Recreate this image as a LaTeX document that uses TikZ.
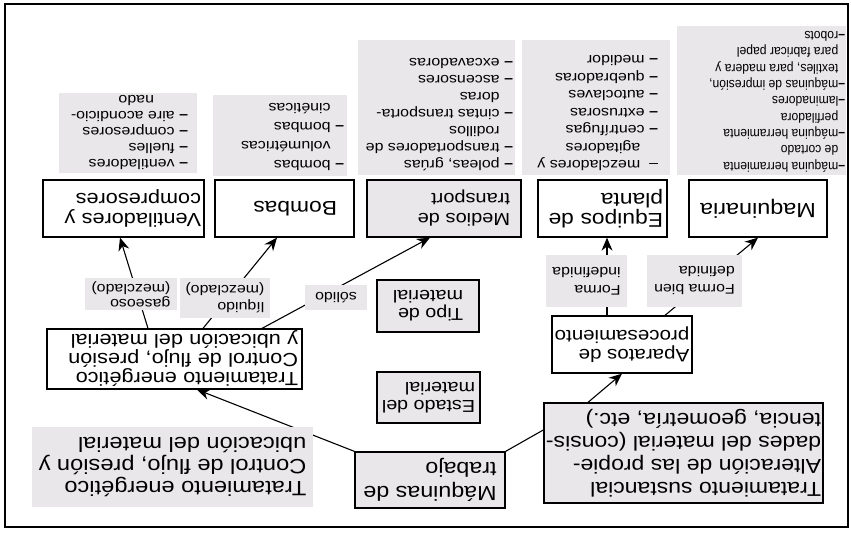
\documentclass[tikz,border=0pt]{standalone}
\usepackage{fontspec}
\setmainfont{Liberation Sans}[FakeStretch=1.14]
\newfontfamily\condfont{Liberation Sans}[FakeStretch=0.9]
\usetikzlibrary{arrows.meta}
\definecolor{boxgray}{RGB}{234,231,234}
\newcommand\bd{\textbf{–}\ }
\newcommand\bdd{\textbf{–}}
\newcommand\ind{\hphantom{\textbf{–}\ }}
\newcommand\indd{\hphantom{\textbf{–}}}
\newcommand\fs[2]{\fontsize{#1}{#2}\selectfont}
\begin{document}
\begin{tikzpicture}[x=1pt,y=-1pt,
  box/.style={draw, line width=1.3pt, rotate=180, align=left, inner sep=2pt, fill=white},
  graybox/.style={box, fill=boxgray},
  listbg/.style={fill=boxgray, rotate=180, inner sep=0pt},
  listtext/.style={rotate=180, align=left, inner sep=0pt, anchor=north west, font=\fs{14}{16}},
  lab/.style={fill=boxgray, rotate=180, align=left, inner sep=0pt, font=\fs{14}{15}},
  conn/.style={line width=1.1pt},
  arr/.style={conn, -{Stealth[length=13pt,width=11pt]}},
  frame/.style={line width=2.5pt}
]
\useasboundingbox (0,0) rectangle (851,534);
\fill[white] (0,0) rectangle (851,534);
\draw[frame] (5,4) rectangle (848,527);

% top row boxes
\node[box, minimum width=161pt, minimum height=57pt, inner xsep=3pt, text width=155pt, font=\fs{19}{20}] (vent) at (123.5,208.5) {Ventiladores y\\compresores};
\node[box, minimum width=139pt, minimum height=57pt, inner xsep=17pt, text width=105pt, font=\fs{20}{21}] (bomb) at (284.5,208.5) {Bombas};
\node[graybox, minimum width=154pt, minimum height=57pt, inner xsep=11pt, text width=132pt, font=\fs{17.5}{20}] (medios) at (444,208.5) {Medios de\\transport};
\node[box, minimum width=129pt, minimum height=57pt, inner xsep=4pt, text width=121pt, font=\fs{20}{20}] (equipos) at (602.5,208.5) {Equipos de\\planta};
\node[box, minimum width=138pt, minimum height=57pt, font=\fs{20.5}{21}] (maqui) at (758,208.5) {Maquinaria};

% list backgrounds
\node[listbg, minimum width=138pt, minimum height=80pt] (l1) at (128,133) {};
\node[listbg, minimum width=134pt, minimum height=81pt] (l2) at (280,135.5) {};
\node[listbg, minimum width=157pt, minimum height=135pt] (l3) at (436.5,107.5) {};
\node[listbg, minimum width=148pt, minimum height=135pt] (l4) at (596,107.5) {};
\node[listbg, minimum width=169pt, minimum height=149pt] (l5) at (761.5,100.5) {};
% list texts
\node[listtext] (l1t) at ([xshift=-9pt,yshift=3pt]l1.north west)
  {\bd ventiladores\\ \bd fuelles\\ \bd compresores\\ \bd aire acondicio-\\ \hspace*{34pt}nado};
\node[listtext, font=\fs{14}{19}] (l2t) at ([xshift=-3pt,yshift=5pt]l2.north west)
  {\bd bombas\\ \ind volumétricas\\ \bd bombas\\ \ind cinéticas};
\node[listtext, font=\fs{14}{17}] (l3t) at ([xshift=-2pt,yshift=4pt]l3.north west)
  {\bd poleas, grúas\\ \bd transportadores de\\ \ind rodillos\\ \bd cintas transporta-\\ \ind doras\\ \bd ascensores\\ \bd excavadoras};
\node[listtext, font=\fs{14}{17.5}] (l4t) at ([xshift=-12pt,yshift=4pt]l4.north west)
  {– \ mezcladores y\\ \ind\ agitadores\\ \bd centrífugas\\ \bd extrusoras\\ \bd autoclaves\\ \bd quebradoras\\ \bd medidor};
\node[listtext, font=\condfont\fs{13.5}{16.3}] (l5t) at ([xshift=-1pt,yshift=3pt]l5.north west)
  {\bdd máquina herramienta\\ \indd de cortado\\ \bdd máquina herramienta\\ \indd perfiladora\\ \bdd laminadores\\ \bdd máquinas de impresión,\\ \indd textiles, para madera y\\ \indd para fabricar papel\\ \bdd robots};

% middle boxes
\node[box, minimum width=255pt, minimum height=58pt, inner xsep=4pt, text width=247pt, font=\fs{19}{19}] (tener) at (174.5,359) {Tratamiento energético\\Control de flujo, presión\\y ubicación del material};
\node[graybox, minimum width=102pt, minimum height=52pt, font=\fs{17.3}{18}] (tipo) at (428,306) {Tipo de\\material};
\node[graybox, minimum width=103pt, minimum height=51pt, font=\fs{17.3}{18}] (estado) at (428.5,397.5) {Estado del\\material};
\node[box, minimum width=140pt, minimum height=57pt, font=\fs{18}{19}] (aparatos) at (622,344.5) {Aparatos de\\procesamiento};
\node[graybox, minimum width=150pt, minimum height=56pt, font=\fs{20.4}{24}] (maqtrab) at (430,480) {Máquinas de\\trabajo};
\node[graybox, minimum width=279pt, minimum height=100pt, font=\fs{20.2}{23}] (tsust) at (683.5,453) {Tratamiento sustancial\\Alteración de las propie-\\dades del material (consis-\\tencia, geometría, etc.)};

% connectors
\draw[conn] (maqtrab.south west) -- ([yshift=23pt]tsust.east);
\draw[arr] ([xshift=-95.5pt]tsust.south) -- (aparatos.north);
\draw[arr] ([xshift=43pt]aparatos.south) -- (maqui.north);
\draw[arr] ([xshift=-15pt]aparatos.south) -- ([xshift=4.5pt]equipos.north);
\draw[arr] (maqtrab.south east) -- ([xshift=22.5pt]tener.north);
\draw[arr] ([xshift=-26.5pt]tener.south) -- ([xshift=-3.5pt]vent.north);
\draw[arr] ([xshift=28.5pt]tener.south) -- ([xshift=-7.5pt]bomb.north);
\draw[arr] ([xshift=87.5pt]tener.south) -- ([xshift=-14pt]medios.north);

% connector labels
\node[lab, minimum width=92pt, minimum height=32pt] (lgas) at (131,294) {gaseoso\\(mezclado)};
\node[lab, minimum width=90pt, minimum height=40pt, font=\fs{14}{17}] (lliq) at (225,298) {líquido\\(mezclado)};
\node[lab, minimum width=62pt, minimum height=25pt] (lsol) at (336,297.5) {sólido};
\node[lab, minimum width=95pt, minimum height=52pt, font=\fs{14}{18}] (lbien) at (694.5,281) {Forma bien\\definida};
\node[lab, minimum width=81pt, minimum height=52pt, font=\fs{14}{18}] (lindef) at (586.5,281) {Forma\\indefinida};
\node[lab, minimum width=281pt, minimum height=80pt, font=\fs{20.7}{22}] (lbig) at (172.5,467) {Tratamiento energético\\Control de flujo, presión y\\ubicación del material};
\end{tikzpicture}
\end{document}
